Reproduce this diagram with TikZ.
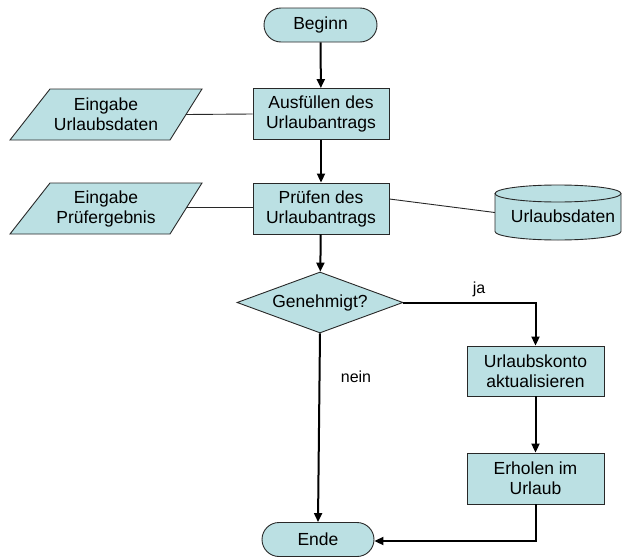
\documentclass[tikz,border=0pt]{standalone}
\usepackage{fontspec}
\setmainfont{Liberation Sans}
\usetikzlibrary{shapes.geometric,shapes.misc,arrows.meta}
\definecolor{boxfill}{RGB}{187,224,227}
\definecolor{boxline}{RGB}{40,40,40}
\begin{document}
\begin{tikzpicture}[x=1pt,y=-1pt,
  every node/.style={font=\fontsize{17.5}{20}\selectfont, align=center, inner sep=0pt},
  shapebox/.style={draw=boxline, fill=boxfill, line width=0.9pt},
  procbox/.style={shapebox, rectangle, minimum width=136pt, minimum height=51pt},
  termbox/.style={shapebox, rounded rectangle, minimum height=34pt},
  decbox/.style={shapebox, diamond, aspect=2.7, minimum width=166pt, minimum height=61pt},
  flow/.style={line width=2pt, -{Triangle[length=9pt,width=8pt]}},
  dataline/.style={line width=0.9pt, draw=boxline},
  lbl/.style={font=\fontsize{16}{19}\selectfont}
]
\useasboundingbox (0,0) rectangle (622,557);

% input parallelograms
\draw[shapebox] (10,140) -- (50,89) -- (202,89) -- (170,140) -- cycle;
\draw[shapebox] (10,234) -- (50,183) -- (202,183) -- (170,234) -- cycle;
\node (in1) at (106,114.5) {Eingabe\\Urlaubsdaten};
\node (in2) at (106,208.5) {Eingabe\\Prüfergebnis};
\coordinate (in1r) at (186,114.5);
\coordinate (in2r) at (186,207.5);

% nodes
\node[termbox, minimum width=113pt] (beginn) at (320.5,25) {Beginn};
\node[procbox] (ausf) at (321,114) {Ausfüllen des\\Urlaubantrags};
\node[procbox] (pruef) at (321,208.5) {Prüfen des\\Urlaubantrags};
\node[decbox] (dec) at (320,302.5) {Genehmigt?};
\node[procbox, minimum width=137pt, minimum height=50pt] (konto) at (535.5,371) {Urlaubskonto\\aktualisieren};
\node[procbox, minimum width=137pt] (erh) at (535.5,478.5) {Erholen im\\Urlaub};
\node[termbox, minimum width=112pt] (ende) at (318,539.5) {Ende};

% database cylinder
\node[minimum width=126pt, minimum height=55pt] (cyl) at (558,212.5) {};
\fill[boxfill] (495,193.5) -- (495,231.5) arc[start angle=180,end angle=360,x radius=63,y radius=-8.5]
   -- (621,193.5) arc[start angle=0,end angle=180,x radius=63,y radius=8.5] -- cycle;
\draw[boxline, line width=0.9pt] (495,193.5) -- (495,231.5) arc[start angle=180,end angle=360,x radius=63,y radius=-8.5]
   -- (621,193.5);
\draw[boxline, line width=0.9pt, fill=boxfill] (558,193.5) ellipse[x radius=63, y radius=8.5];
\node at (563,216) {Urlaubsdaten};

% data lines
\draw[dataline] (in1r) -- (ausf.west);
\draw[dataline] (in2r) -- ([yshift=1pt]pruef.west);
\draw[dataline] ([yshift=9.5pt]pruef.east) -- (cyl.west);

% flow
\draw[flow] (beginn) -- (ausf);
\draw[flow] (ausf) -- (pruef);
\draw[flow] (pruef) -- (dec);
\draw[flow] (dec.east) -- (konto.north |- dec.east) -- (konto.north);
\draw[flow] (konto) -- (erh);
\draw[flow] (dec.south) -- (ende.north);
\draw[flow] (erh.south) |- ([yshift=-1.5pt]ende.east);

% labels
\node[lbl] (ja) at (479,289) {ja};
\node[lbl] (nein) at (356,377) {nein};
\end{tikzpicture}
\end{document}
